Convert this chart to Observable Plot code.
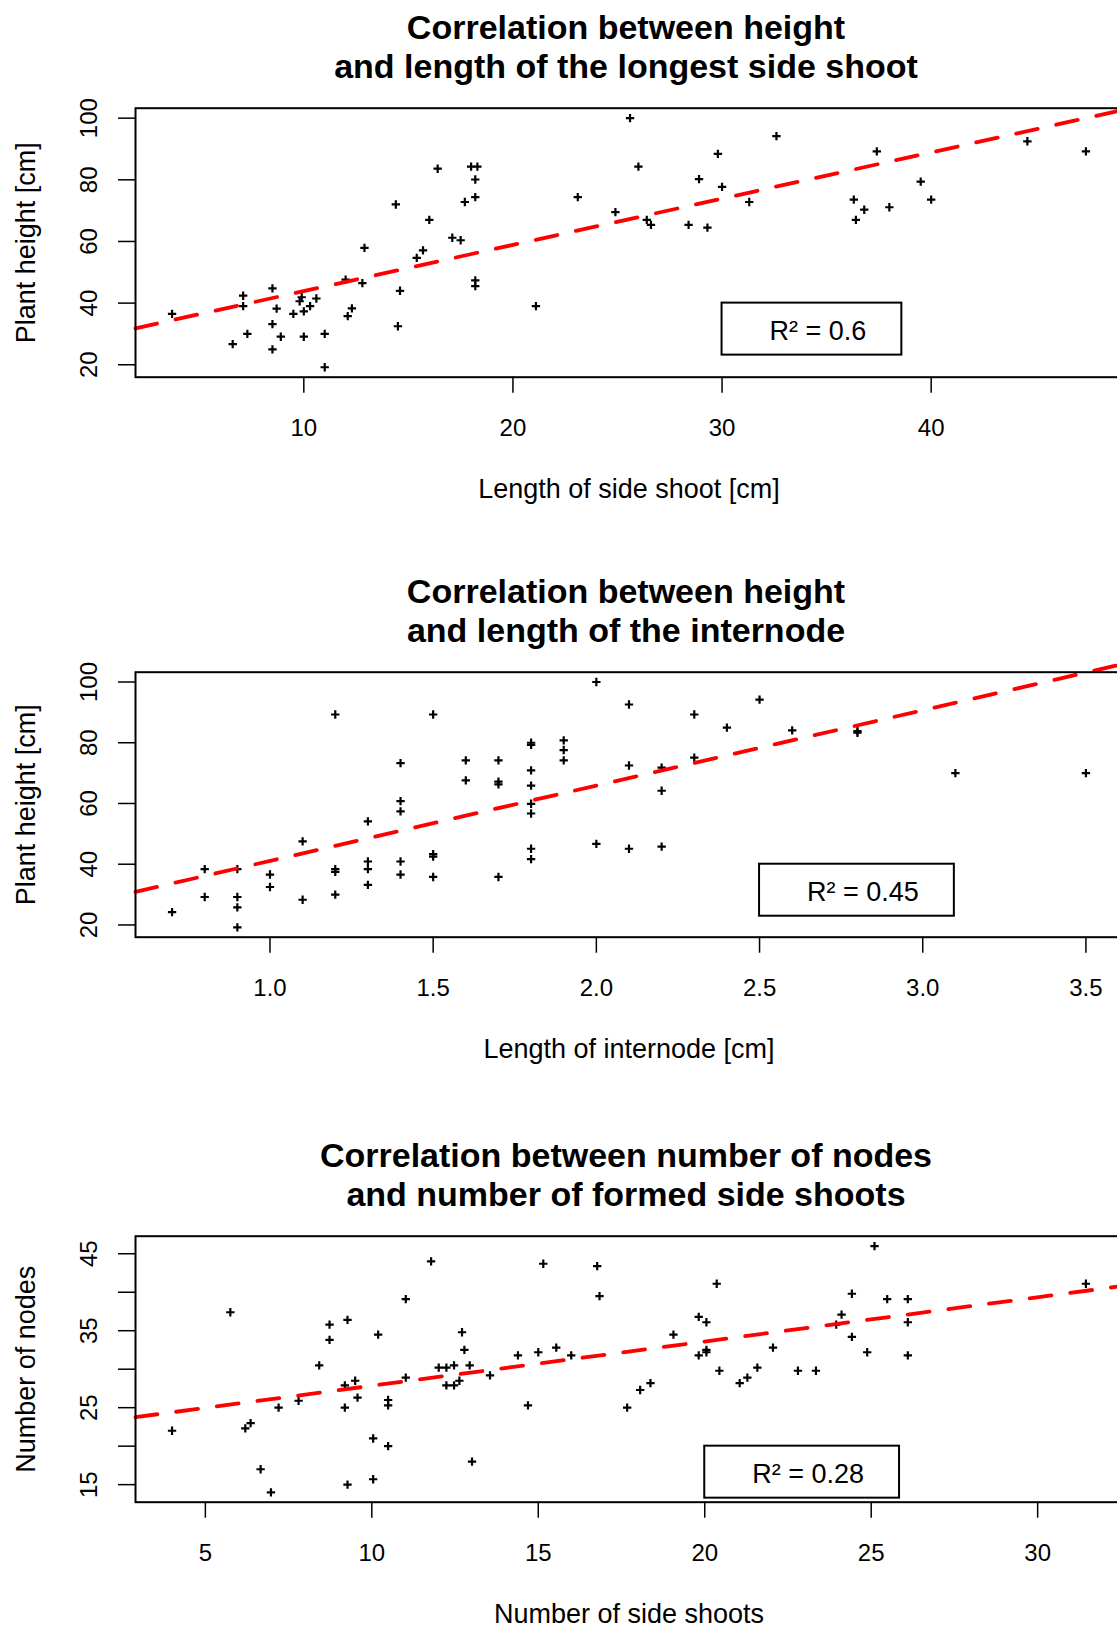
<!DOCTYPE html>
<html>
<head>
<meta charset="utf-8">
<script src="https://cdn.jsdelivr.net/npm/d3@7"></script>
<script src="https://cdn.jsdelivr.net/npm/@observablehq/plot@0.6"></script>
<style>
html, body { margin: 0; padding: 0; background: #fff; overflow: hidden; }
#page { position: relative; width: 1117px; height: 1629px; overflow: hidden; font-family: "Liberation Sans", Arial, sans-serif; color: #000; }
.panel { position: relative; width: 1117px; height: 564px; }
.title { position: absolute; left: 126px; width: 1000px; top: 7.7px; text-align: center; font-weight: bold; font-size: 34px; line-height: 39px; }
.chart { position: absolute; left: 0; top: 95px; }
</style>
</head>
<body>
<div id="page"></div>
<script>
// ---------- Panel 1: height vs. length of longest side shoot ----------
const sideShootLength = [3.7, 6.6, 7.1, 7.1, 7.3, 8.5, 8.7, 8.5, 8.9, 8.5, 9.5, 9.8, 9.9, 10.0, 10.3, 10.6, 10.0, 11.0, 11.0, 12.1, 12.3, 12.0, 12.8, 12.9, 14.4, 14.6, 14.5, 15.4, 15.7, 16.0, 16.4, 17.1, 17.5, 17.7, 18.2, 18.2, 18.0, 18.3, 18.2, 18.2, 21.1, 23.1, 24.9, 25.6, 26.0, 26.4, 26.6, 28.4, 28.9, 29.3, 29.8, 30.0, 31.3, 32.6, 36.3, 36.4, 36.8, 37.4, 38.0, 39.5, 40.0, 44.6, 47.4];
const plantHeightA = [36.5, 26.7, 42.4, 39.0, 30.0, 44.8, 38.2, 33.2, 29.1, 25.0, 36.5, 40.6, 41.9, 37.3, 39.0, 41.5, 29.1, 30.0, 19.2, 35.8, 38.3, 47.6, 46.5, 57.9, 72.0, 44.0, 32.5, 54.7, 57.1, 67.0, 83.6, 61.2, 60.4, 72.8, 74.4, 80.1, 84.3, 84.3, 47.4, 45.5, 39.0, 74.4, 69.5, 100, 84.3, 67.0, 65.4, 65.4, 80.2, 64.5, 88.4, 77.7, 72.8, 94.2, 73.6, 67.0, 70.3, 89.2, 71.1, 79.4, 73.6, 92.5, 89.2];
const fitA = { intercept: 28.9, slope: 1.5 };
const xTicksA = [10, 20, 30, 40];
const yTicksA = [20, 40, 60, 80, 100];

// ---------- Panel 2: height vs. internode length ----------
const internodeLength = [0.7, 0.8, 0.8, 0.9, 0.9, 0.9, 0.9, 1.0, 1.0, 1.1, 1.1, 1.2, 1.2, 1.2, 1.2, 1.3, 1.3, 1.3, 1.3, 1.4, 1.4, 1.4, 1.4, 1.4, 1.5, 1.5, 1.5, 1.5, 1.6, 1.6, 1.7, 1.7, 1.7, 1.7, 1.8, 1.8, 1.8, 1.8, 1.8, 1.8, 1.8, 1.8, 1.9, 1.9, 1.9, 2.0, 2.0, 2.1, 2.1, 2.1, 2.2, 2.2, 2.2, 2.3, 2.3, 2.4, 2.5, 2.6, 2.8, 2.8, 3.1, 3.5];
const plantHeightB = [24.2, 38.4, 29.2, 38.4, 29.2, 25.8, 19.2, 36.6, 32.5, 47.5, 28.3, 89.3, 38.4, 37.5, 30.0, 54.1, 40.9, 38.4, 33.2, 73.3, 60.8, 57.4, 40.9, 36.6, 89.3, 43.3, 42.5, 35.8, 74.2, 67.6, 74.2, 67.2, 66.3, 35.8, 80.0, 79.3, 70.9, 65.9, 59.9, 56.7, 45.1, 41.7, 80.8, 77.6, 74.2, 100, 46.7, 92.6, 72.5, 45.1, 71.8, 64.2, 45.8, 89.3, 75.1, 85.0, 94.2, 84.1, 83.8, 83.3, 70.0, 70.0];
const fitB = { intercept: 16.3, slope: 24.8 };
const xTicksB = [1.0, 1.5, 2.0, 2.5, 3.0, 3.5];
const yTicksB = [20, 40, 60, 80, 100];

// ---------- Panel 3: nodes vs. number of side shoots ----------
const sideShootCount = [4.0, 5.75, 6.2, 6.36, 6.66, 6.97, 7.2, 7.8, 8.42, 8.73, 8.73, 9.27, 9.19, 9.5, 9.19, 9.57, 9.27, 10.04, 10.04, 10.19, 10.49, 10.49, 10.49, 11.02, 11.02, 11.78, 12.01, 12.24, 12.47, 12.24, 12.47, 12.63, 12.71, 12.78, 12.94, 13.01, 13.55, 14.39, 14.69, 15.0, 15.15, 15.54, 15.99, 16.77, 16.84, 17.67, 18.06, 18.37, 19.06, 19.82, 20.05, 19.82, 20.05, 20.05, 20.36, 20.44, 21.05, 21.28, 21.58, 22.05, 22.8, 23.34, 23.95, 24.11, 24.42, 24.42, 24.88, 25.1, 25.48, 26.1, 26.1, 26.1, 31.45];
const nodeCount = [22.0, 37.4, 22.3, 23.0, 17.0, 14.0, 25.0, 25.9, 30.5, 35.8, 33.8, 36.4, 27.9, 28.5, 25.0, 26.3, 15.0, 21.0, 15.7, 34.5, 26.0, 25.3, 20.0, 39.1, 28.9, 44.0, 30.2, 30.2, 30.5, 27.9, 27.9, 28.5, 34.8, 32.5, 30.5, 18.0, 29.2, 31.8, 25.3, 32.2, 43.7, 32.8, 31.8, 43.4, 39.5, 25.0, 27.3, 28.2, 34.5, 36.8, 36.1, 31.8, 32.5, 32.2, 41.1, 29.8, 28.2, 28.9, 30.2, 32.8, 29.8, 29.8, 35.8, 37.1, 39.8, 34.2, 32.2, 46.0, 39.1, 39.1, 36.1, 31.8, 41.1];
const fitC = { intercept: 22.1, slope: 0.575 };
const xTicksC = [5, 10, 15, 20, 25, 30];
const yTicksC = [15, 20, 25, 30, 35, 40, 45];
const yLabelsC = [15, 25, 35, 45];

// ---------- Texts ----------
const titles = [
  ["Correlation between height", "and length of the longest side shoot"],
  ["Correlation between height", "and length of the internode"],
  ["Correlation between number of nodes", "and number of formed side shoots"]
];
const xLabels = ["Length of side shoot [cm]", "Length of internode [cm]", "Number of side shoots"];
const yLabels = ["Plant height [cm]", "Plant height [cm]", "Number of nodes"];
const rSquared = ["0.6", "0.45", "0.28"];

const FONT = '"Liberation Sans", Arial, sans-serif';
const measureCtx = document.createElement("canvas").getContext("2d");
function textWidth(str, size) {
  measureCtx.font = `${size}px ${FONT}`;
  return measureCtx.measureText(str).width;
}
// R-style axis extension (4% on each side)
function rRange(values) {
  const [a, b] = d3.extent(values);
  const d = (b - a) * 0.04;
  return [a - d, b + d];
}

function panel(cfg) {
  const W = 1124, ml = 135, mr = 2, mt = 12.7, mb = 140;
  const H = mt + cfg.plotH + mb;
  const xd = rRange(cfg.x), yd = rRange(cfg.y);
  const kx = (W - ml - mr) / (xd[1] - xd[0]);
  const ky = cfg.plotH / (yd[1] - yd[0]);
  const pts = cfg.x.map((x, i) => ({ x, y: cfg.y[i] }));
  const fitLine = xd.map(x => ({ x, y: cfg.fit.intercept + cfg.fit.slope * x }));
  const legText = `R² = ${cfg.r2}`;
  const legSize = 27;
  const tw = textWidth(legText, legSize);
  const box = { x1: cfg.leg[0], x2: cfg.leg[0] + (tw + 83) / kx, y1: cfg.leg[1], y2: cfg.leg[1] - 52 / ky };
  return Plot.plot({
    width: W, height: H,
    marginLeft: ml, marginRight: mr, marginTop: mt, marginBottom: mb,
    style: { background: "transparent", maxWidth: "none", fontFamily: FONT, color: "black", overflow: "visible" },
    x: { domain: xd },
    y: { domain: yd },
    marks: [
      Plot.axisX({ ticks: cfg.xTicks, tickSize: 16, tickFormat: () => "", strokeWidth: 1.5, label: null }),
      Plot.axisY({ ticks: cfg.yTicks, tickSize: 17, tickFormat: () => "", strokeWidth: 1.5, label: null }),
      Plot.text(cfg.xTicks, { x: d => d, text: cfg.xFmt, frameAnchor: "bottom", dy: 51, lineAnchor: "middle", fontSize: 24, fill: "black" }),
      Plot.text(cfg.yLab, { y: d => d, text: d => String(d), frameAnchor: "left", dx: -45.8, rotate: -90, lineAnchor: "middle", textAnchor: "middle", fontSize: 24, fill: "black" }),
      Plot.text([cfg.xLabel], { text: d => d, frameAnchor: "bottom", dy: 112.5, lineAnchor: "middle", fontSize: 27, fill: "black" }),
      Plot.text([cfg.yLabel], { text: d => d, frameAnchor: "left", dx: -108.9, rotate: -90, lineAnchor: "middle", textAnchor: "middle", fontSize: 27, fill: "black" }),
      Plot.dot(pts, { x: "x", y: "y", symbol: "plus", r: 2.8, stroke: "black", strokeWidth: 2.2 }),
      Plot.line(fitLine, { x: "x", y: "y", stroke: "#ff0000", strokeWidth: 3.8, strokeDasharray: "22,19" }),
      Plot.rect([box], { x1: "x1", x2: "x2", y1: "y1", y2: "y2", fill: "white", stroke: "black", strokeWidth: 2 }),
      Plot.text([legText], { x: () => cfg.leg[0], y: () => cfg.leg[1], text: d => d, dx: 47.5, dy: 28, textAnchor: "start", lineAnchor: "middle", fontSize: legSize, fill: "black" }),
      Plot.frame({ stroke: "black", strokeWidth: 2 })
    ]
  });
}

const configs = [
  { x: sideShootLength, y: plantHeightA, fit: fitA, plotH: 269, xTicks: xTicksA, yTicks: yTicksA, yLab: yTicksA, xFmt: d => String(d), leg: [30, 40], r2: rSquared[0], xLabel: xLabels[0], yLabel: yLabels[0] },
  { x: internodeLength, y: plantHeightB, fit: fitB, plotH: 265, xTicks: xTicksB, yTicks: yTicksB, yLab: yTicksB, xFmt: d => d3.format(".1f")(d), leg: [2.5, 40], r2: rSquared[1], xLabel: xLabels[1], yLabel: yLabels[1] },
  { x: sideShootCount, y: nodeCount, fit: fitC, plotH: 266, xTicks: xTicksC, yTicks: yTicksC, yLab: yLabelsC, xFmt: d => String(d), leg: [20, 20], r2: rSquared[2], xLabel: xLabels[2], yLabel: yLabels[2] }
];

const page = document.getElementById("page");
configs.forEach((cfg, i) => {
  const div = document.createElement("div");
  div.className = "panel";
  const t = document.createElement("div");
  t.className = "title";
  t.innerHTML = titles[i].join("<br>");
  div.appendChild(t);
  const c = document.createElement("div");
  c.className = "chart";
  c.appendChild(panel(cfg));
  div.appendChild(c);
  page.appendChild(div);
});
</script>
</body>
</html>
